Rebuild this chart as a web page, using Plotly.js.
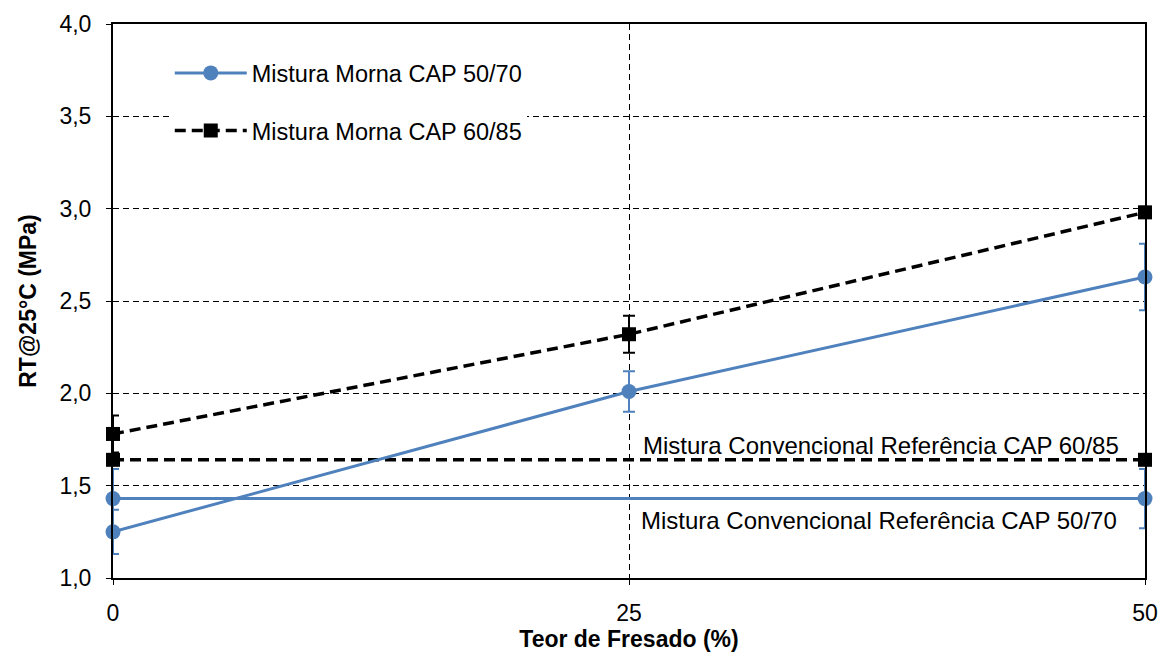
<!DOCTYPE html>
<html>
<head>
<meta charset="utf-8">
<script src="https://cdn.plot.ly/plotly-3.0.1.min.js"></script>
<style>html,body{margin:0;padding:0;background:#fff;}#chart{width:1162px;height:655px;}</style>
</head>
<body>
<div id="chart"></div>
<script>
// Data
const teorFresado = [0, 25, 50];
const mornaCap5070 = [1.25, 2.01, 2.63];
const mornaCap5070Err = [0.12, 0.11, 0.18];
const mornaCap6085 = [1.78, 2.32, 2.98];
const mornaCap6085Err = [0.10, 0.10, 0.03];
const refX = [0, 50];
const refCap6085 = [1.64, 1.64];
const refCap5070 = [1.43, 1.43];
const refCap5070Err = [0.16, 0.16];
const xTicks = [0, 25, 50];

const blue = '#4f81bd';
const traces = [
  {
    x: refX, y: refCap5070, type: 'scatter', mode: 'lines+markers',
    line: {color: blue, width: 3},
    marker: {symbol: 'circle', size: 15, color: blue},
    error_y: {type: 'data', array: refCap5070Err, visible: true, color: blue, thickness: 2, width: 6},
    showlegend: false, cliponaxis: false
  },
  {
    x: refX, y: refCap6085, type: 'scatter', mode: 'lines+markers',
    line: {color: '#000', width: 3.5, dash: '11px,6px'},
    marker: {symbol: 'square', size: 14, color: '#000'},
    showlegend: false, cliponaxis: false
  },
  {
    x: teorFresado, y: mornaCap5070, type: 'scatter', mode: 'lines+markers',
    name: 'Mistura Morna CAP 50/70', legendgroup: 'a',
    line: {color: blue, width: 3},
    marker: {symbol: 'circle', size: 15, color: blue},
    error_y: {type: 'data', array: mornaCap5070Err, visible: true, color: blue, thickness: 2, width: 6},
    cliponaxis: false
  },
  {
    x: teorFresado, y: mornaCap6085, type: 'scatter', mode: 'lines+markers',
    name: 'Mistura Morna CAP 60/85', legendgroup: 'b',
    line: {color: '#000', width: 3.5, dash: '11px,6px'},
    marker: {symbol: 'square', size: 14, color: '#000'},
    error_y: {type: 'data', array: mornaCap6085Err, visible: true, color: '#000', thickness: 2, width: 6},
    cliponaxis: false
  }
];

const layout = {
  width: 1162, height: 655,
  margin: {l: 113, r: 17, t: 24, b: 77},
  paper_bgcolor: '#fff', plot_bgcolor: '#fff',
  separators: ',.',
  font: {family: 'Liberation Sans, Arial, sans-serif', color: '#000', size: 23},
  showlegend: true,
  legend: {
    x: 0.055, y: 0.951, xanchor: 'left', yanchor: 'top',
    bgcolor: '#fff', borderwidth: 0,
    font: {size: 23.5, color: '#000'},
    itemwidth: 72, traceorder: 'grouped', tracegroupgap: 24
  },
  shapes: [
    {type: 'rect', xref: 'paper', yref: 'paper', x0: 0.036, x1: 0.428, y0: 0.78, y1: 0.96,
     fillcolor: '#fff', line: {width: 0}, layer: 'between'}
  ],
  xaxis: {
    range: [0, 50], tickvals: xTicks, ticktext: xTicks.map(String),
    showline: true, linecolor: '#000', linewidth: 2, mirror: true,
    ticks: 'outside', ticklen: 5, tickcolor: '#000', ticklabelstandoff: 8,
    showgrid: true, gridcolor: '#000', gridwidth: 1, griddash: '6px,4px',
    zeroline: false, tickfont: {size: 23},
    title: {text: '<b>Teor de Fresado (%)</b>', font: {size: 23}, standoff: 4}
  },
  yaxis: {
    range: [1, 4], dtick: 0.5, tick0: 1, tickformat: '.1f',
    showline: true, linecolor: '#000', linewidth: 2, mirror: true,
    ticks: 'outside', ticklen: 5, tickcolor: '#000', ticklabelstandoff: 10,
    showgrid: true, gridcolor: '#000', gridwidth: 1, griddash: '6px,4px',
    zeroline: false, tickfont: {size: 23},
    title: {text: '<b>RT@25°C (MPa)</b>', font: {size: 23}, standoff: 16}
  },
  annotations: [
    {x: 37.2, y: 1.72, xref: 'x', yref: 'y', text: 'Mistura Convencional Referência CAP 60/85',
     showarrow: false, font: {size: 24, color: '#000'}},
    {x: 37.1, y: 1.31, xref: 'x', yref: 'y', text: 'Mistura Convencional Referência CAP 50/70',
     showarrow: false, font: {size: 24, color: '#000'}}
  ]
};

Plotly.newPlot('chart', traces, layout, {displayModeBar: false, staticPlot: true});
</script>
</body>
</html>
